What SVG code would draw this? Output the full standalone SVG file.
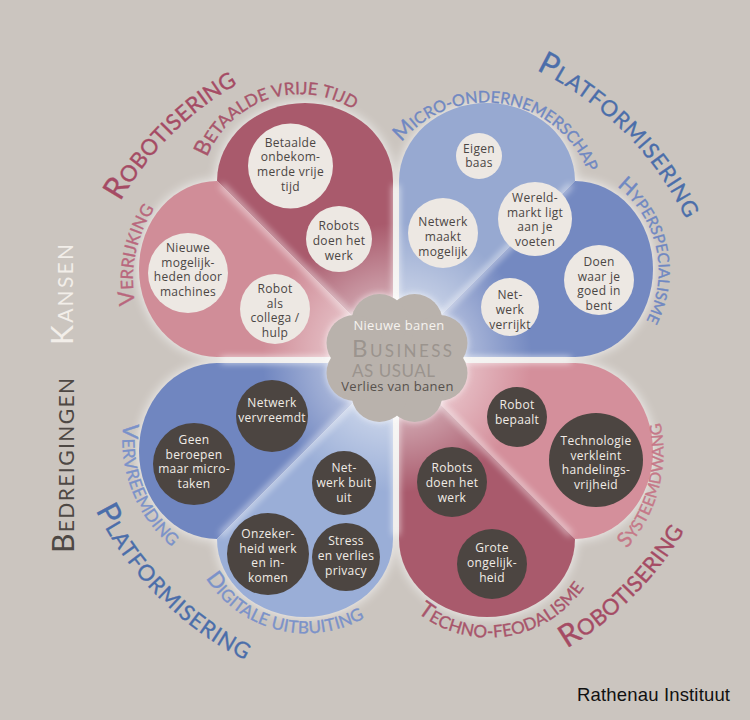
<svg xmlns="http://www.w3.org/2000/svg" width="750" height="720" viewBox="0 0 750 720">
<style>
.ct{font-family:"Open Sans","DejaVu Sans",sans-serif;font-size:12px;letter-spacing:0.3px;text-anchor:middle;fill:#4b4644}
.dt{font-family:"Open Sans","DejaVu Sans",sans-serif;font-size:12px;letter-spacing:0.3px;text-anchor:middle;fill:#f1ece6}
.cc{fill:#ede8e3}
.dc{fill:#4c4541}
.lab{font-family:Lato,"Open Sans",sans-serif;text-anchor:middle;stroke-width:0.35px}
.big{font-size:22px}
.rose{fill:#a54b64;stroke:#a54b64}
.blue{fill:#4b6eaa;stroke:#4b6eaa}
.srose{fill:#a8556b;stroke:#a8556b}
.lrose{fill:#b9677d;stroke:#b9677d}
.prose{fill:#c57888;stroke:#c57888}
.sblue{fill:#7088c2;stroke:#7088c2}
.lblue{fill:#7b92c9;stroke:#7b92c9}
.drk{fill:#a95a6c}
.pnk{fill:#d08d98}
.lbl{fill:#97a9d1}
.dbl{fill:#7489c1}
</style>
<defs>
<filter id="soft" filterUnits="userSpaceOnUse" x="0" y="0" width="750" height="720"><feGaussianBlur stdDeviation="6"/></filter>
<filter id="soft3" filterUnits="userSpaceOnUse" x="0" y="0" width="750" height="720"><feGaussianBlur stdDeviation="3.5"/></filter>
<radialGradient id="cglow" cx="397" cy="358" r="135" gradientUnits="userSpaceOnUse">
<stop offset="0" stop-color="#fff" stop-opacity="0.6"/>
<stop offset="0.45" stop-color="#fff" stop-opacity="0.45"/>
<stop offset="1" stop-color="#fff" stop-opacity="0"/>
</radialGradient>
<g id="cloudG">
<ellipse cx="397" cy="358" rx="48" ry="42"/>
<circle cx="414.6" cy="322" r="28"/>
<circle cx="379.4" cy="322" r="28"/>
<circle cx="439.5" cy="343.1" r="28"/>
<circle cx="439.5" cy="372.9" r="28"/>
<circle cx="414.6" cy="394" r="28"/>
<circle cx="379.4" cy="394" r="28"/>
<circle cx="354.5" cy="372.9" r="28"/>
<circle cx="354.5" cy="343.1" r="28"/>
</g>
<path id="pTL" d="M135.5,542.4 A318,318 0 0 1 578.4,99.5"/>
<path id="pTR" d="M211.3,96.2 A322,322 0 0 1 659.8,544.7"/>
<path id="pBR" d="M203.8,634.4 A335,335 0 0 0 670.4,167.8"/>
<path id="pBL" d="M120.8,167.3 A336,336 0 0 0 588.7,635.2"/>
<path id="pBVT" d="M201,207.9 A100,100 0 0 1 388.3,147.1"/>
<path id="pVER" d="M214.9,400.1 A129,129 0 0 1 265.1,151"/>
<path id="pMIC" d="M382.5,176.2 A109.5,109.5 0 0 1 595.5,210.3"/>
<path id="pHYP" d="M547.5,164.6 A106.5,106.5 0 0 1 592.6,369.5"/>
<path id="pVVR" d="M188.9,321.2 A139.5,139.5 0 0 0 290.1,576.7"/>
<path id="pDIG" d="M187.8,506.7 A118.5,118.5 0 0 0 414.2,563.2"/>
<path id="pTEC" d="M379.6,559 A115.5,115.5 0 0 0 604.5,524.6"/>
<path id="pSYS" d="M505.3,596.9 A145.5,145.5 0 0 0 579.5,320.1"/>
</defs>

<rect width="750" height="720" fill="#cbc5bf"/>

<g id="halo" fill="#fff" opacity="0.8" filter="url(#soft)">
<path d="M217,181 A88,78 0 0 1 393,181 L393,357 L217,357 A78,88 0 0 1 217,181 Z"/>
<path d="M399,357 L399,181 A88,78 0 0 1 575,181 A78,88 0 0 1 575,357 Z"/>
<path d="M393,363 L217,363 A78,88 0 0 0 217,539 A88,78 0 0 0 393,539 Z"/>
<path d="M399,363 L575,363 A78,88 0 0 1 575,539 A88,78 0 0 1 399,539 Z"/>
</g>

<g id="lobes">
<g id="lobe-betaalde-vrije-tijd"><path class="drk" d="M217,181 A88,78 0 0 1 393,181 L393,357 Z"/></g>
<g id="lobe-verrijking"><path class="pnk" d="M217,181 L393,357 L217,357 A78,88 0 0 1 217,181 Z"/></g>
<g id="lobe-micro-ondernemerschap"><path class="lbl" d="M399,357 L399,181 A88,78 0 0 1 575,181 Z"/></g>
<g id="lobe-hyperspecialisme"><path class="dbl" d="M575,181 A78,88 0 0 1 575,357 L399,357 Z"/></g>
<g id="lobe-vervreemding"><path fill="#7086c0" d="M393,363 L217,363 A78,88 0 0 0 217,539 Z"/></g>
<g id="lobe-digitale-uitbuiting"><path fill="#9aaed7" d="M217,539 A88,78 0 0 0 393,539 L393,363 Z"/></g>
<g id="lobe-systeemdwang"><path fill="#d48f9b" d="M399,363 L575,363 A78,88 0 0 1 575,539 Z"/></g>
<g id="lobe-techno-feodalisme"><path class="drk" d="M575,539 A88,78 0 0 1 399,539 L399,363 Z"/></g>
</g>

<g id="glow">
<circle cx="397" cy="358" r="135" fill="url(#cglow)"/>
<g stroke="#fff" fill="none" opacity="0.75" filter="url(#soft3)">
<path d="M396,185 V535 M221,360 H571" stroke-width="6"/>
<path d="M221,185 L393,357 M571,185 L399,357 M221,535 L393,363 M571,535 L399,363" stroke-width="4"/>
</g>
</g>

<g id="connectors"/>

<g id="nodes">
<g id="n-betaalde"><circle class="cc" cx="290.5" cy="166" r="42.5"/><text class="ct"><tspan x="290.5" y="146.5">Betaalde</tspan><tspan x="290.5" y="161.2">onbekom-</tspan><tspan x="290.5" y="175.9">merde vrije</tspan><tspan x="290.5" y="190.6">tijd</tspan></text></g>
<g id="n-robots-kans"><circle class="cc" cx="339" cy="239" r="33"/><text class="ct"><tspan x="339" y="230.3">Robots</tspan><tspan x="339" y="245">doen het</tspan><tspan x="339" y="259.7">werk</tspan></text></g>
<g id="n-nieuwe-mogelijkheden"><circle class="cc" cx="188" cy="273" r="40"/><text class="ct"><tspan x="188" y="252">Nieuwe</tspan><tspan x="188" y="266.7">mogelijk-</tspan><tspan x="188" y="281.4">heden door</tspan><tspan x="188" y="296.1">machines</tspan></text></g>
<g id="n-robot-collega"><circle class="cc" cx="275" cy="309" r="35"/><text class="ct"><tspan x="275" y="293">Robot</tspan><tspan x="275" y="307.7">als</tspan><tspan x="275" y="322.4">collega /</tspan><tspan x="275" y="337.1">hulp</tspan></text></g>

<g id="n-eigen-baas"><circle class="cc" cx="479" cy="156" r="23"/><text class="ct"><tspan x="479" y="152.7">Eigen</tspan><tspan x="479" y="167.4">baas</tspan></text></g>
<g id="n-wereldmarkt"><circle class="cc" cx="535" cy="219" r="37"/><text class="ct"><tspan x="535" y="202">Wereld-</tspan><tspan x="535" y="216.7">markt ligt</tspan><tspan x="535" y="231.4">aan je</tspan><tspan x="535" y="246.1">voeten</tspan></text></g>
<g id="n-netwerk-maakt"><circle class="cc" cx="443" cy="233" r="35"/><text class="ct"><tspan x="443" y="226.3">Netwerk</tspan><tspan x="443" y="241">maakt</tspan><tspan x="443" y="255.7">mogelijk</tspan></text></g>
<g id="n-doen-waar"><circle class="cc" cx="599" cy="280" r="35"/><text class="ct"><tspan x="599" y="266">Doen</tspan><tspan x="599" y="280.7">waar je</tspan><tspan x="599" y="295.4">goed in</tspan><tspan x="599" y="310.1">bent</tspan></text></g>
<g id="n-netwerk-verrijkt"><circle class="cc" cx="510" cy="307" r="29"/><text class="ct"><tspan x="510" y="299.3">Net-</tspan><tspan x="510" y="314">werk</tspan><tspan x="510" y="328.7">verrijkt</tspan></text></g>

<g id="n-netwerk-vervreemdt"><circle class="dc" cx="272" cy="416" r="36"/><text class="dt"><tspan x="272" y="407.2">Netwerk</tspan><tspan x="272" y="421.9">vervreemdt</tspan></text></g>
<g id="n-geen-beroepen"><circle class="dc" cx="194" cy="464" r="41"/><text class="dt"><tspan x="194" y="444">Geen</tspan><tspan x="194" y="458.7">beroepen</tspan><tspan x="194" y="473.4">maar micro-</tspan><tspan x="194" y="488.1">taken</tspan></text></g>
<g id="n-netwerk-buit"><circle class="dc" cx="344" cy="483" r="32"/><text class="dt"><tspan x="344" y="472.3">Net-</tspan><tspan x="344" y="487">werk buit</tspan><tspan x="344" y="501.7">uit</tspan></text></g>
<g id="n-onzekerheid"><circle class="dc" cx="268" cy="554" r="41"/><text class="dt"><tspan x="268" y="538">Onzeker-</tspan><tspan x="268" y="552.7">heid werk</tspan><tspan x="268" y="567.4">en in-</tspan><tspan x="268" y="582.1">komen</tspan></text></g>
<g id="n-stress"><circle class="dc" cx="346" cy="557" r="34"/><text class="dt"><tspan x="346" y="545.3">Stress</tspan><tspan x="346" y="560">en verlies</tspan><tspan x="346" y="574.7">privacy</tspan></text></g>

<g id="n-robot-bepaalt"><circle class="dc" cx="517" cy="417" r="30"/><text class="dt"><tspan x="517" y="409.2">Robot</tspan><tspan x="517" y="423.9">bepaalt</tspan></text></g>
<g id="n-technologie"><circle class="dc" cx="596" cy="460" r="47"/><text class="dt"><tspan x="596" y="445">Technologie</tspan><tspan x="596" y="459.7">verkleint</tspan><tspan x="596" y="474.4">handelings-</tspan><tspan x="596" y="489.1">vrijheid</tspan></text></g>
<g id="n-robots-bedreiging"><circle class="dc" cx="452" cy="482" r="35"/><text class="dt"><tspan x="452" y="472.3">Robots</tspan><tspan x="452" y="487">doen het</tspan><tspan x="452" y="501.7">werk</tspan></text></g>
<g id="n-grote-ongelijkheid"><circle class="dc" cx="492" cy="564" r="35"/><text class="dt"><tspan x="492" y="552.3">Grote</tspan><tspan x="492" y="567">ongelijk-</tspan><tspan x="492" y="581.7">heid</tspan></text></g>

<g id="n-business-as-usual">
<use href="#cloudG" fill="#fff" opacity="0.7" filter="url(#soft3)"/>
<use href="#cloudG" fill="#b9b2ac"/>
<text x="399" y="330" font-family="'Open Sans',sans-serif" font-size="13" fill="#f6f3ef" text-anchor="middle" letter-spacing="0.3">Nieuwe banen</text>
<text x="352" y="357" font-family="Lato,'Open Sans',sans-serif" font-size="17" fill="#9b948e" textLength="100" lengthAdjust="spacing"><tspan font-size="24">B</tspan>USINESS</text>
<text x="352" y="377" font-family="Lato,'Open Sans',sans-serif" font-size="17" fill="#9b948e" textLength="83" lengthAdjust="spacing">AS  USUAL</text>
<text x="397.5" y="391" font-family="'Open Sans',sans-serif" font-size="13" fill="#57514d" text-anchor="middle" letter-spacing="0.3">Verlies van banen</text>
</g>
</g>

<g id="labels">
<text class="lab big rose" letter-spacing="0.3"><textPath href="#pTL" startOffset="50%"><tspan font-size="31">R</tspan>OBOTISERING</textPath></text>
<text class="lab big blue" letter-spacing="0.8"><textPath href="#pTR" startOffset="50%"><tspan font-size="31">P</tspan>LATFORMISERING</textPath></text>
<text class="lab big rose" letter-spacing="0.3"><textPath href="#pBR" startOffset="50%"><tspan font-size="31">R</tspan>OBOTISERING</textPath></text>
<text class="lab big blue" letter-spacing="0.8"><textPath href="#pBL" startOffset="50%"><tspan font-size="31">P</tspan>LATFORMISERING</textPath></text>

<text class="lab srose" font-size="17" letter-spacing="0.1"><textPath href="#pBVT" startOffset="50%"><tspan font-size="22">B</tspan>ETAALDE VRIJE TIJD</textPath></text>
<text class="lab lrose" font-size="17" letter-spacing="0.1"><textPath href="#pVER" startOffset="50%"><tspan font-size="22">V</tspan>ERRIJKING</textPath></text>
<text class="lab sblue" font-size="16" letter-spacing="0"><textPath href="#pMIC" startOffset="50%"><tspan font-size="21">M</tspan>ICRO-ONDERNEMERSCHAP</textPath></text>
<text class="lab sblue" font-size="15.5" letter-spacing="0"><textPath href="#pHYP" startOffset="50%"><tspan font-size="21">H</tspan>YPERSPECIALISME</textPath></text>
<text class="lab lblue" font-size="17" letter-spacing="0.2"><textPath href="#pVVR" startOffset="50%"><tspan font-size="22">V</tspan>ERVREEMDING</textPath></text>
<text class="lab lblue" font-size="17" letter-spacing="0.15"><textPath href="#pDIG" startOffset="50%"><tspan font-size="22">D</tspan>IGITALE UITBUITING</textPath></text>
<text class="lab srose" font-size="17" letter-spacing="0.25"><textPath href="#pTEC" startOffset="50%"><tspan font-size="22">T</tspan>ECHNO-FEODALISME</textPath></text>
<text class="lab prose" font-size="16" letter-spacing="0"><textPath href="#pSYS" startOffset="50%"><tspan font-size="21">S</tspan>YSTEEMDWANG</textPath></text>

<text transform="translate(73,345) rotate(-90)" font-family="Lato,'Open Sans',sans-serif" font-size="21" fill="#f2eee9" textLength="101" lengthAdjust="spacing"><tspan font-size="30">K</tspan>ANSEN</text>
<text transform="translate(74,553) rotate(-90)" font-family="Lato,'Open Sans',sans-serif" font-size="21" fill="#4e4844" textLength="175" lengthAdjust="spacing"><tspan font-size="30">B</tspan>EDREIGINGEN</text>

<text x="577" y="701" font-family="'Liberation Sans',Arial,sans-serif" font-size="18.5" fill="#111" textLength="153" lengthAdjust="spacing">Rathenau Instituut</text>
</g>
</svg>
